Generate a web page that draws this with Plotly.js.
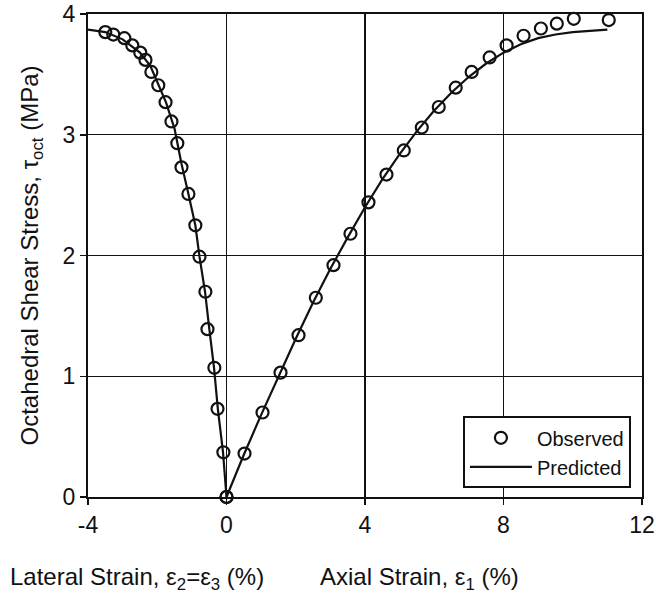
<!DOCTYPE html>
<html>
<head>
<meta charset="utf-8">
<script src="https://cdn.plot.ly/plotly-3.0.1.min.js"></script>
<style>html,body{margin:0;padding:0;background:#fff;}#chart{width:656px;height:596px;}</style>
</head>
<body>
<div id="chart"></div>
<script>
// Observed lateral branch (strain %, stress MPa)
const obsLatX = [-3.50, -3.27, -2.95, -2.72, -2.49, -2.34, -2.17, -1.97, -1.76, -1.59, -1.42, -1.30, -1.10, -0.90, -0.78, -0.61, -0.55, -0.35, -0.26, -0.09, 0];
const obsLatY = [3.85, 3.83, 3.80, 3.74, 3.68, 3.62, 3.52, 3.41, 3.27, 3.11, 2.93, 2.73, 2.51, 2.25, 1.99, 1.70, 1.39, 1.07, 0.73, 0.37, 0];
// Observed axial branch
const obsAxX = [0, 0.52, 1.04, 1.56, 2.08, 2.58, 3.09, 3.58, 4.10, 4.62, 5.12, 5.64, 6.13, 6.62, 7.08, 7.60, 8.09, 8.58, 9.08, 9.54, 10.03, 11.04];
const obsAxY = [0, 0.36, 0.70, 1.03, 1.34, 1.65, 1.92, 2.18, 2.44, 2.67, 2.87, 3.06, 3.23, 3.39, 3.52, 3.64, 3.74, 3.82, 3.88, 3.92, 3.96, 3.95];
// Predicted lateral branch
const predLatX = [-4.0, -3.5, -3.0, -2.5, -2.2, -2.0, -1.75, -1.5, -1.3, -1.1, -0.9, -0.78, -0.62, -0.5, -0.36, -0.25, -0.1, 0];
const predLatY = [3.87, 3.85, 3.79, 3.68, 3.57, 3.43, 3.27, 3.05, 2.76, 2.51, 2.25, 1.99, 1.70, 1.40, 1.07, 0.73, 0.37, 0];
// Predicted axial branch
const predAxX = [0, 0.5, 1.0, 1.5, 2.0, 2.5, 3.0, 3.5, 4.0, 4.5, 5.0, 5.5, 6.0, 6.5, 7.0, 7.5, 8.0, 8.5, 9.0, 9.5, 10.0, 10.5, 11.0];
const predAxY = [0, 0.35, 0.68, 1.00, 1.31, 1.61, 1.89, 2.15, 2.40, 2.63, 2.84, 3.03, 3.20, 3.35, 3.48, 3.59, 3.68, 3.75, 3.80, 3.83, 3.85, 3.86, 3.87];

const xTicks = [-4, 0, 4, 8, 12];
const yTicks = [0, 1, 2, 3, 4];
const ink = '#111';
const fnt = 'Liberation Sans, Arial, sans-serif';

const markerStyle = {symbol: 'circle-open', size: 12, color: ink, line: {width: 2.2, color: ink}};
const lineStyle = {color: ink, width: 2.2};

const traces = [
  {x: obsLatX, y: obsLatY, type: 'scatter', mode: 'markers', name: 'Observed', legendgroup: 'o', marker: markerStyle, cliponaxis: false},
  {x: obsAxX, y: obsAxY, type: 'scatter', mode: 'markers', name: 'Observed', legendgroup: 'o', showlegend: false, marker: markerStyle, cliponaxis: false},
  {x: predLatX, y: predLatY, type: 'scatter', mode: 'lines', name: 'Predicted', legendgroup: 'p', line: lineStyle, cliponaxis: false},
  {x: predAxX, y: predAxY, type: 'scatter', mode: 'lines', name: 'Predicted', legendgroup: 'p', showlegend: false, line: lineStyle, cliponaxis: false}
];

const layout = {
  width: 656, height: 596,
  margin: {l: 88, r: 14, t: 14, b: 99},
  paper_bgcolor: '#fff', plot_bgcolor: '#fff',
  font: {family: fnt, color: ink, size: 20},
  showlegend: true,
  xaxis: {
    range: [-4, 12], tickvals: xTicks, ticktext: xTicks.map(String),
    showgrid: true, gridcolor: ink, gridwidth: 1.2,
    zeroline: false, showline: true, linecolor: ink, linewidth: 2.2, mirror: true,
    ticks: 'outside', ticklen: 6, tickwidth: 1.5, tickcolor: ink,
    tickfont: {size: 23, family: fnt, color: ink}
  },
  yaxis: {
    range: [0, 4], tickvals: yTicks, ticktext: yTicks.map(String),
    showgrid: true, gridcolor: ink, gridwidth: 1.2,
    zeroline: false, showline: true, linecolor: ink, linewidth: 2.2, mirror: true,
    ticks: 'outside', ticklen: 6, tickwidth: 1.5, tickcolor: ink,
    tickfont: {size: 23, family: fnt, color: ink},
    title: {text: 'Octahedral Shear Stress, τ<sub>oct</sub> (MPa)', font: {size: 24, family: fnt, color: ink}, standoff: 17}
  },
  legend: {
    x: 0.98, y: 0.018, xanchor: 'right', yanchor: 'bottom',
    bgcolor: '#fff', bordercolor: ink, borderwidth: 2,
    font: {size: 20, family: fnt, color: ink},
    tracegroupgap: 0, itemwidth: 62
  },
  annotations: [
    {text: 'Lateral Strain, ε<sub>2</sub>=ε<sub>3</sub> (%)', xref: 'paper', yref: 'paper', x: (137 - 88) / 554, y: -(578 - 497) / 483, xanchor: 'center', yanchor: 'middle', showarrow: false, font: {size: 24, family: fnt, color: ink}},
    {text: 'Axial Strain, ε<sub>1</sub> (%)', xref: 'paper', yref: 'paper', x: (419 - 88) / 554, y: -(578 - 497) / 483, xanchor: 'center', yanchor: 'middle', showarrow: false, font: {size: 24, family: fnt, color: ink}}
  ]
};

Plotly.newPlot('chart', traces, layout, {displayModeBar: false, staticPlot: true});
</script>
</body>
</html>
